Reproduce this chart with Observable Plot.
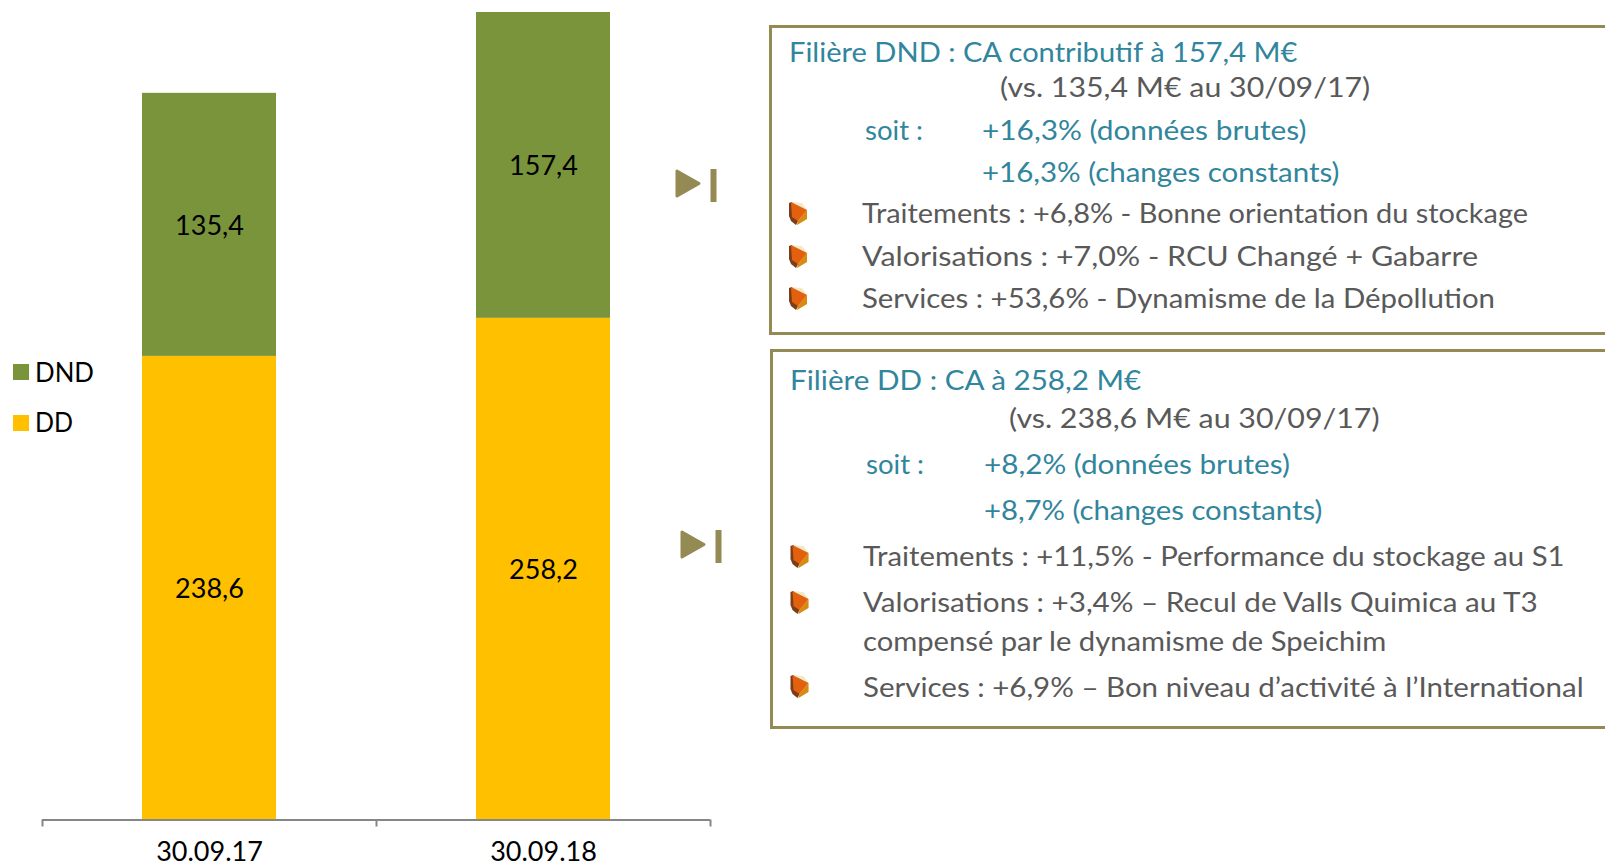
<!DOCTYPE html>
<html><head><meta charset="utf-8">
<script src="https://cdn.jsdelivr.net/npm/d3@7"></script>
<script src="https://cdn.jsdelivr.net/npm/@observablehq/plot@0.6"></script>
<style>
html,body{margin:0;padding:0;background:#fff;overflow:hidden}
#stage{position:relative;width:1605px;height:866px;overflow:hidden;font-family:Lato,sans-serif}
#chart{position:absolute;left:0;top:0}
.t{position:absolute;white-space:pre;font-size:27px;line-height:1;transform-origin:0 0}
.box{position:absolute;box-sizing:border-box;border:3px solid #948A54;border-right:none;right:-2px}
.deco{position:absolute;left:0;top:0}
</style></head><body><div id="stage"><div id="chart"></div></div>
<script>
// ---- data
const periods = ["30.09.17", "30.09.18"];
const series = ["DND", "DD"];
const ddValues = [238.6, 258.2];
const dndValues = [135.4, 157.4];
const colors = ["#7A943C", "#FFC000"];

const dndLines = [
  "Filière DND : CA contributif à 157,4 M€",
  "(vs. 135,4 M€ au 30/09/17)",
  "soit :",
  "+16,3% (données brutes)",
  "+16,3% (changes constants)",
  "Traitements : +6,8% - Bonne orientation du stockage",
  "Valorisations : +7,0% - RCU Changé + Gabarre",
  "Services : +53,6% - Dynamisme de la Dépollution"
];
const ddLines = [
  "Filière DD : CA à 258,2 M€",
  "(vs. 238,6 M€ au 30/09/17)",
  "soit :",
  "+8,2% (données brutes)",
  "+8,7% (changes constants)",
  "Traitements : +11,5% - Performance du stockage au S1",
  "Valorisations : +3,4% – Recul de Valls Quimica au T3",
  "compensé par le dynamisme de Speichim",
  "Services : +6,9% – Bon niveau d’activité à l’International"
];

// ---- chart
const rows = periods.flatMap((p, i) => [
  {period: p, serie: "DD", value: ddValues[i]},
  {period: p, serie: "DND", value: dndValues[i]}
]);
const axisLeft = 42, axisRight = 710, step = (axisRight - axisLeft) / 2;
const fr = v => v.toFixed(1).replace(".", ",");

const plot = Plot.plot({
  width: 1605, height: 866,
  marginLeft: axisLeft, marginRight: 1605 - axisRight, marginTop: 12, marginBottom: 46.5,
  style: {background: "transparent", fontFamily: "Lato, sans-serif"},
  x: {domain: periods, paddingInner: 0.6, paddingOuter: 0.3, label: null},
  y: {domain: [0, 415.6], nice: false, axis: null},
  color: {domain: series, range: colors},
  marks: [
    Plot.barY(rows, {x: "period", y: "value", fill: "serie"}),
    Plot.text(rows, Plot.stackY({x: "period", y: "value", text: d => fr(d.value), fontSize: 27, dy: 1, fill: "#000"})),
    Plot.ruleY([0], {stroke: "#868686", strokeWidth: 2}),
    Plot.ruleX(periods, {x: d => d, y1: 0, y2: -3.6, dx: -step / 2 , stroke: "#868686", strokeWidth: 2}),
    Plot.ruleX(periods.slice(-1), {x: d => d, y1: 0, y2: -3.6, dx: step / 2, stroke: "#868686", strokeWidth: 2}),
    Plot.axisX({tickSize: 0, tickPadding: 22, fontSize: 27, color: "#000", label: null})
  ]
});
document.getElementById("chart").appendChild(plot);

// ---- side panels and legend
const stage = document.getElementById("stage");
const TEAL = "#31859C", GREY = "#595959", SQUARE = "#000";
function line(text, x0, x1, base, color) {
  const s = document.createElement("div");
  s.className = "t";
  s.textContent = text;
  s.style.left = x0 + "px";
  s.style.color = color;
  stage.appendChild(s);
  const r = s.getBoundingClientRect();
  s.style.top = (base - 27 * 0.83 - 1.3) + "px";
  s.style.transform = `scaleX(${(x1 - x0) / r.width})`;
}
function box(left, top, bottom) {
  const b = document.createElement("div");
  b.className = "box";
  b.style.left = left + "px"; b.style.top = top + "px"; b.style.height = (bottom - top) + "px";
  stage.appendChild(b);
}
const NS = "http://www.w3.org/2000/svg";
const deco = document.createElementNS(NS, "svg");
deco.setAttribute("class", "deco");
deco.setAttribute("width", 1605); deco.setAttribute("height", 866);
function poly(parent, pts, fill, extra = {}) {
  const p = document.createElementNS(NS, "polygon");
  p.setAttribute("points", pts); p.setAttribute("fill", fill);
  for (const k in extra) p.setAttribute(k, extra[k]);
  parent.appendChild(p);
}
function bullet(x, y) {
  const g = document.createElementNS(NS, "g");
  g.setAttribute("transform", `translate(${x},${y})`);
  poly(g, "1,0 13,1 18,8 18,17 8,23 3,20 0,14", "#F3E9C8");
  poly(g, "0,1 3,0 9,19 7,23 2,19 0,14", "#7A3E1A");
  poly(g, "9,19 18,8 18,17 8,23", "#D88A12");
  poly(g, "2,0 18,8 9,19 3,15", "#E3600F");
  deco.appendChild(g);
}
function marker(x, y) {
  const g = document.createElementNS(NS, "g");
  g.setAttribute("transform", `translate(${x},${y})`);
  poly(g, "2,2 2,27 24,14.5", "#948A54", {stroke: "#948A54", "stroke-width": 3, "stroke-linejoin": "round"});
  const r = document.createElementNS(NS, "rect");
  r.setAttribute("x", 35.5); r.setAttribute("y", 0); r.setAttribute("width", 6); r.setAttribute("height", 33);
  r.setAttribute("fill", "#948A54");
  g.appendChild(r);
  deco.appendChild(g);
}
function swatch(y, fill) {
  const r = document.createElementNS(NS, "rect");
  r.setAttribute("x", 13); r.setAttribute("y", y); r.setAttribute("width", 16); r.setAttribute("height", 16);
  r.setAttribute("fill", fill);
  deco.appendChild(r);
}

box(769, 25, 335);
box(770, 349, 729);
stage.appendChild(deco);

[[788.6,1297,61.7,TEAL],[999.8,1370,97,GREY],[865,923,139.5,TEAL],[981.5,1306,139.5,TEAL],
 [981.5,1339,181.5,TEAL],[862,1528,223,GREY],[862,1478,266,GREY],[862,1495,308,GREY]]
  .forEach((a, i) => line(dndLines[i], ...a));
[[789.7,1141,390,TEAL],[1009,1379.6,428,GREY],[866,924,474,TEAL],[983.7,1289.6,474,TEAL],
 [983.7,1322,520,TEAL],[863.4,1565,566,GREY],[863.4,1538,612,GREY],[862.8,1386,651,GREY],[863.4,1584,697,GREY]]
  .forEach((a, i) => line(ddLines[i], ...a));

[[789,202],[789,245],[789,287],[790.5,545],[790.5,591],[790.5,675]].forEach(p => bullet(...p));
marker(675, 169); marker(680, 530);

swatch(364, colors[0]); swatch(415, colors[1]);
line(series[0], 35, 94, 381.7, SQUARE);
line(series[1], 35, 73, 432, SQUARE);
</script></body></html>
